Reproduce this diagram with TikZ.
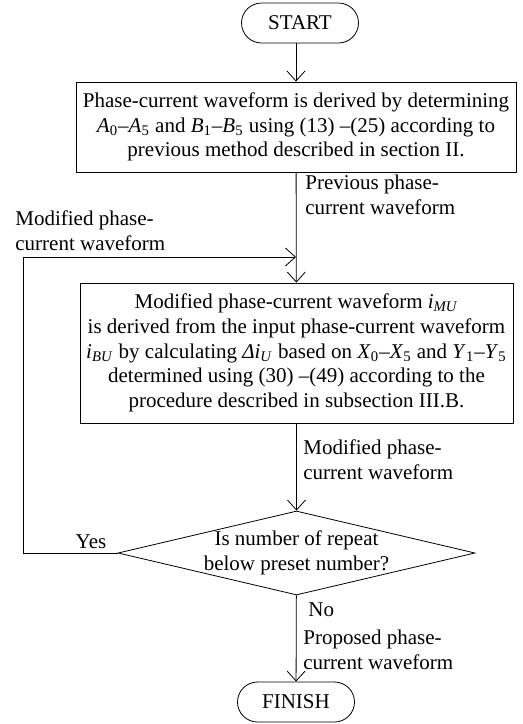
\documentclass[tikz,border=0pt]{standalone}
\usepackage{fontspec}
\setmainfont{Liberation Serif}
\usetikzlibrary{arrows.meta,shapes.geometric}

\newcommand{\vsub}[2]{\textit{#1}\textsubscript{#2}}

\tikzset{
  flow/.style={-{Straight Barb[length=5pt,width=9pt]}},
  term/.style={draw,rounded corners=10pt,minimum width=58.5pt,minimum height=20pt,inner sep=0pt},
  procbox/.style={draw,align=center,inner sep=0pt},
  decision/.style={draw,diamond,minimum width=178.5pt,minimum height=42pt,inner sep=0pt},
  note/.style={align=left,inner sep=0pt,anchor=west}
}

\begin{document}
\begin{tikzpicture}[x=0.5pt,y=-0.5pt,font=\fontsize{10.5pt}{12.4pt}\selectfont]
\useasboundingbox (0,0) rectangle (523,724);

\node[term] (start) at (300,23) {START};

\node[procbox,minimum width=220pt,minimum height=45pt] (derive) at (296,127)
  {Phase-current waveform is derived by determining\\
   \vsub{A}{0}–\vsub{A}{5} and \vsub{B}{1}–\vsub{B}{5} using (13) –(25) according to\\
   previous method described in section II.};

\node[procbox,minimum width=216.5pt,minimum height=70pt] (modify) at (296.5,353)
  {Modified phase-current waveform \vsub{i}{\textit{MU}}\\
   is derived from the input phase-current waveform\\
   \vsub{i}{\textit{BU}} by calculating \vsub{Δi}{\textit{U}} based on \vsub{X}{0}–\vsub{X}{5} and \vsub{Y}{1}–\vsub{Y}{5}\\
   determined using (30) –(49) according to the\\
   procedure described in subsection III.B.};

\node[decision,label={[align=center,font=\fontsize{10.5pt}{12.4pt}\selectfont]center:Is number of repeat\\below preset number?}] (repeat) at (296.5,553) {};

\node[term] (finish) at (296,702) {FINISH};

\coordinate (join) at (296,257);
\coordinate (loopbot) at (23,553);
\coordinate (looptop) at (23,257);

\draw[flow] (start.south -| derive) -- (derive);
\draw[flow] (derive) -- (modify);
\draw[flow] (repeat.west) -- (loopbot) -- (looptop) -- (join);
\draw[flow] (modify) -- (repeat);
\draw[flow] (repeat) -- (finish);

\node[note] (prevlab) at (305,195) {Previous phase-\\current waveform};
\node[note] (looplab) at (15,231) {Modified phase-\\current waveform};
\node[note] (modlab) at (303,460) {Modified phase-\\current waveform};
\node (yeslab) at (91,542) {Yes};
\node[note] (nolab) at (308,610) {No};
\node[note] (proplab) at (303,650) {Proposed phase-\\current waveform};

\end{tikzpicture}
\end{document}
